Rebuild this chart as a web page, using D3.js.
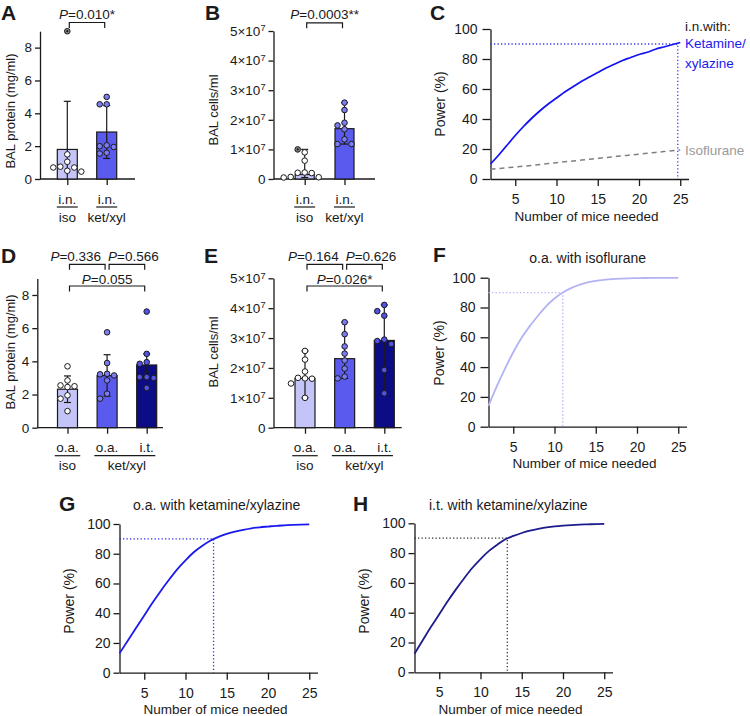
<!DOCTYPE html>
<html><head><meta charset="utf-8">
<script src="https://cdn.jsdelivr.net/npm/d3@7/dist/d3.min.js"></script>
<style>html,body{margin:0;padding:0;background:#fff}</style>
</head><body>
<svg id="fig" width="750" height="716" xmlns="http://www.w3.org/2000/svg"></svg>
<script>
// ================= DATA =================
// Panel A: BAL protein (mg/ml), i.n. delivery
const aTopLabels = ["i.n.", "i.n."];
const aGroupLabels = ["iso", "ket/xyl"];
const aBars = [1.8, 2.86];
const aErrLow = [0, 1.25];
const aErrHigh = [4.73, 4.47];
const aPointsIso = [1.5, 1.05, 0.75, 0.7, 0.7, 0.5, 0.45];
const aOutliersIso = [9.0];
const aPointsKet = [5.0, 4.55, 4.55, 2.05, 2.0, 1.95, 1.6, 1.55];
const proteinTicks = [0, 2, 4, 6, 8];
const aPvalue = "=0.010*";

// Panel B: BAL cells/ml, i.n. delivery
const bTopLabels = ["i.n.", "i.n."];
const bGroupLabels = ["iso", "ket/xyl"];
const bBars = [0.15e7, 1.70e7];
const bErrLow = [0.05e7, 1.18e7];
const bErrHigh = [1.0e7, 2.58e7];
const bPointsIso = [0.9e7, 0.62e7, 0.22e7, 0.21e7, 0.2e7, 0.07e7, 0.06e7, 0.05e7];
const bOutliersIso = [1.0e7];
const bPointsKet = [2.58e7, 2.33e7, 1.9e7, 1.81e7, 1.68e7, 1.34e7, 1.18e7, 1.18e7];
const cellTicks = [0, 1e7, 2e7, 3e7, 4e7, 5e7];
const bPvalue = "=0.0003**";

// Panel D: BAL protein, o.a. iso / o.a. ket/xyl / i.t. ket/xyl
const dTopLabels = ["o.a.", "o.a.", "i.t."];
const dGroupLabels = ["iso", "ket/xyl"];
const dBars = [2.32, 3.14, 3.78];
const dErrLow = [1.52, 1.9, 3.35];
const dErrHigh = [3.12, 4.4, 4.45];
const dPointsIso = [3.7, 2.85, 2.55, 2.5, 2.45, 1.95, 1.75, 1.0];
const dPointsOaKet = [5.75, 3.9, 3.25, 3.22, 3.15, 2.85, 2.05, 1.75];
const dPointsItKet = [7.0, 4.45, 3.95, 3.85, 3.05, 3.05, 3.0, 2.4];
const dPvalues = ["=0.336", "=0.566", "=0.055"];

// Panel E: BAL cells/ml
const eTopLabels = ["o.a.", "o.a.", "i.t."];
const eGroupLabels = ["iso", "ket/xyl"];
const eBars = [1.65e7, 2.31e7, 2.92e7];
const eErrLow = [1.0e7, 1.65e7, 1.15e7];
const eErrHigh = [2.57e7, 3.53e7, 4.11e7];
const ePointsIso = [2.57e7, 2.28e7, 1.88e7, 1.67e7, 1.65e7, 1.64e7, 1.48e7, 1.0e7];
const ePointsOaKet = [3.53e7, 3.13e7, 2.72e7, 2.48e7, 2.25e7, 1.98e7, 1.71e7, 1.65e7];
const ePointsItKet = [4.11e7, 3.9e7, 3.75e7, 2.95e7, 2.9e7, 2.8e7, 1.93e7, 1.15e7];
const ePvalues = ["=0.164", "=0.626", "=0.026*"];

// Power curves: number of mice vs power (%)
const miceN = [2,3,4,5,6,7,8,9,10,11,12,13,14,15,16,17,18,19,20,21,22,23,24,25];
const powerTicks = [0, 20, 40, 60, 80, 100];
const miceTicks = [5, 10, 15, 20, 25];
const targetPower = 90;
const cKetPower = [10,16,22.5,29,35,40.5,45.5,50,54,58,61.5,65,68,71,74,76.5,79,81,83,84.5,86.5,88,89.5,91];
const cIsoPower = [6.5,7,7.5,8,8.5,9.1,9.7,10.3,10.9,11.5,12,12.6,13.2,13.8,14.3,14.9,15.5,16,16.6,17.2,17.7,18.3,18.8,19.4];
const cNeeded = 24.7;
const fPower = [14,27,39,50,59.5,67.5,74.5,81,86,90,93,95.2,96.8,97.9,98.6,99.1,99.4,99.6,99.7,99.8,99.85,99.9,99.9,99.95];
const fNeeded = 11;
const gPower = [13,21.5,30,38.5,47,55,62.5,69.5,75.5,81,85.2,88.7,91.3,93.3,94.9,96.1,97.1,97.8,98.3,98.8,99.1,99.4,99.6,99.7];
const gNeeded = 13.4;
const hPower = [12.5,21.5,30.5,39,47.5,55.5,63,70,76,81.3,85.5,89.3,91.5,93.5,95.1,96.3,97.2,97.9,98.4,98.8,99.1,99.3,99.5,99.6];
const hNeeded = 13.25;

// ================= STYLE =================
const FONT = '"Liberation Sans", Arial, Helvetica, sans-serif';
const INK = "#1a1a1a";
const colIsoBar = "#c4c4f8", colKetBar = "#5a5aee", colItBar = "#0c0c84";
const colIsoPt = "#ffffff", colKetPt = "#7c7cf2", colItPt = "#5252e6";

const svg = d3.select("#fig").attr("font-family", FONT).style("color", INK);

function letter(t, x, y) {
  svg.append("text").attr("x", x).attr("y", y).attr("font-size", 21)
    .attr("font-weight", "bold").attr("fill", INK).text(t);
}
function yTitle(t, cx, cy, fs) {
  svg.append("text").attr("transform", `translate(${cx},${cy}) rotate(-90)`)
    .attr("text-anchor", "middle").attr("dy", "0.35em").attr("font-size", fs)
    .attr("fill", INK).text(t);
}
function styleAxis(g, fs) {
  g.attr("font-size", fs).attr("font-family", FONT);
  g.selectAll("path.domain").attr("stroke-width", 1.3).attr("stroke", INK);
  g.selectAll(".tick line").attr("stroke-width", 1.3).attr("stroke", INK);
  g.selectAll(".tick text").attr("fill", INK);
}
function sciLabels(g) {
  g.selectAll(".tick text").each(function(d) {
    const t = d3.select(this); t.text(null);
    if (d === 0) { t.text("0"); return; }
    t.append("tspan").text(`${d / 1e7}×10`);
    t.append("tspan").attr("dy", "-0.5em").attr("font-size", "0.68em").text("7");
  });
}

// deterministic beeswarm offsets
function swarm(vals, y, outFlags) {
  const minD = 6.4, step = 7;
  const order = vals.map((v, i) => i).sort((a, b) => {
    if (outFlags[a] !== outFlags[b]) return outFlags[a] ? 1 : -1;
    return vals[b] - vals[a];
  });
  const placed = [];
  const res = new Array(vals.length);
  const cands = [0, -step, step, -2 * step, 2 * step, -3 * step, 3 * step];
  order.forEach(i => {
    const py = y(vals[i]);
    for (const dx of cands) {
      if (placed.every(p => Math.hypot(p.dx - dx, p.py - py) >= minD)) {
        placed.push({ dx, py }); res[i] = { dx, py }; break;
      }
    }
  });
  return res;
}

function barPanel(o) {
  const g = svg.append("g");
  const n = o.bars.length;
  const y = d3.scaleLinear().domain([0, o.yMax]).range([o.yBase, o.yTop]);
  const x = d3.scalePoint().domain(d3.range(n)).range([o.c0, o.c1]);

  const ya = g.append("g").attr("transform", `translate(${o.x0},0)`)
    .call(d3.axisLeft(y).tickValues(o.ticks).tickSize(5).tickPadding(3).tickSizeOuter(0));
  styleAxis(ya, 13.5);
  if (o.sci) sciLabels(ya);
  const xa = g.append("g").attr("transform", `translate(0,${o.yBase})`)
    .call(d3.axisBottom(x).tickSize(6).tickFormat("").tickSizeOuter(0));
  xa.select("path.domain").remove();
  styleAxis(xa, 13.5);
  g.append("line").attr("x1", o.x0).attr("x2", o.x1).attr("y1", o.yBase).attr("y2", o.yBase)
    .attr("stroke", INK).attr("stroke-width", 1.3);

  g.selectAll("rect.bar").data(o.bars).join("rect").attr("class", "bar")
    .attr("x", (d, i) => x(i) - o.barW / 2).attr("y", d => y(d))
    .attr("width", o.barW).attr("height", d => o.yBase - y(d))
    .attr("fill", (d, i) => o.barFill[i]).attr("stroke", INK).attr("stroke-width", 1.2);

  o.bars.forEach((b, i) => {
    const lo = y(Math.max(0, o.errLow[i])), hi = y(o.errHigh[i]);
    g.append("line").attr("x1", x(i)).attr("x2", x(i)).attr("y1", lo).attr("y2", hi)
      .attr("stroke", INK).attr("stroke-width", 1.2);
    g.append("line").attr("x1", x(i) - 3.5).attr("x2", x(i) + 3.5).attr("y1", hi).attr("y2", hi)
      .attr("stroke", INK).attr("stroke-width", 1.2);
    if (o.errLow[i] > 0)
      g.append("line").attr("x1", x(i) - 3.5).attr("x2", x(i) + 3.5).attr("y1", lo).attr("y2", lo)
        .attr("stroke", INK).attr("stroke-width", 1.2);
  });

  o.points.forEach((pts, i) => {
    const outs = (o.outliers && o.outliers[i]) || [];
    const vals = pts.concat(outs);
    const flags = pts.map(() => false).concat(outs.map(() => true));
    const pos = swarm(vals, y, flags);
    vals.forEach((v, k) => {
      const cx = x(i) + pos[k].dx, cy = pos[k].py;
      if (flags[k]) {
        g.append("circle").attr("cx", cx).attr("cy", cy).attr("r", 2.8)
          .attr("fill", "#8a8a8a").attr("stroke", INK).attr("stroke-width", 1);
        g.append("circle").attr("cx", cx).attr("cy", cy).attr("r", 1.1).attr("fill", INK);
      } else {
        g.append("circle").attr("cx", cx).attr("cy", cy).attr("r", 2.8)
          .attr("fill", o.ptFill[i]).attr("stroke", INK).attr("stroke-width", 1);
      }
    });
  });

  const topTexts = o.topLabels.map((t, i) =>
    g.append("text").attr("x", x(i)).attr("y", o.yBase + 24.5).attr("text-anchor", "middle")
      .attr("font-size", 13.5).attr("fill", INK).text(t));
  o.groups.forEach(gr => {
    const l = x(gr.from) - topTexts[gr.from].node().getComputedTextLength() / 2 - 1.5;
    const r = x(gr.to) + topTexts[gr.to].node().getComputedTextLength() / 2 + 1.5;
    g.append("line").attr("x1", l).attr("x2", r).attr("y1", o.yBase + 28).attr("y2", o.yBase + 28)
      .attr("stroke", INK).attr("stroke-width", 1.2);
    g.append("text").attr("x", (x(gr.from) + x(gr.to)) / 2).attr("y", o.yBase + 42.5)
      .attr("text-anchor", "middle").attr("font-size", 13.5).attr("fill", INK).text(gr.label);
  });

  o.brackets.forEach(bk => {
    const x1 = x(bk.i) + 2, x2 = x(bk.j) - 2;
    g.append("path").attr("d", `M${x1},${bk.y + 5.5}V${bk.y}H${x2}V${bk.y + 5.5}`)
      .attr("fill", "none").attr("stroke", INK).attr("stroke-width", 1.2);
    let tx = (x(bk.i) + x(bk.j)) / 2, anchor = "middle";
    if (bk.align === "end") { tx = x(bk.j) - 6; anchor = "end"; }
    if (bk.align === "start") { tx = x(bk.i) + 1; anchor = "start"; }
    const t = g.append("text").attr("x", tx).attr("y", bk.ty).attr("text-anchor", anchor)
      .attr("font-size", 13.5).attr("fill", INK);
    t.append("tspan").attr("font-style", "italic").text("P");
    t.append("tspan").text(bk.text);
  });
  return { x, y };
}

function powerPanel(o) {
  const g = svg.append("g");
  const x = d3.scaleLinear().domain([2, 26]).range([o.x0, o.x1]);
  const y = d3.scaleLinear().domain([0, 100]).range([o.yBase, o.yTop]);
  const ya = g.append("g").attr("transform", `translate(${o.x0},0)`)
    .call(d3.axisLeft(y).tickValues(powerTicks).tickSize(o.yTick).tickPadding(o.yPad).tickSizeOuter(0));
  styleAxis(ya, 14);
  const xa = g.append("g").attr("transform", `translate(0,${o.yBase})`)
    .call(d3.axisBottom(x).tickValues(miceTicks).tickSize(7).tickPadding(8).tickSizeOuter(0));
  styleAxis(xa, 14);
  g.append("text").attr("x", (o.x0 + o.x1) / 2 - 3).attr("y", o.yBase + 41.5).attr("text-anchor", "middle")
    .attr("font-size", 13.5).attr("fill", INK).text("Number of mice needed");
  if (o.title)
    g.append("text").attr("x", o.titleX).attr("y", o.titleY).attr("text-anchor", "middle")
      .attr("font-size", 14).attr("fill", INK).text(o.title);

  g.append("path").attr("d", `M${x(2)},${y(targetPower)}H${x(o.needed)}V${y(0)}`)
    .attr("fill", "none").attr("stroke", o.dotColor).attr("stroke-width", 1.3)
    .attr("stroke-dasharray", "1.3,2.2");

  const line = d3.line().x((d, i) => x(miceN[i])).y(d => y(d)).curve(d3.curveMonotoneX);
  o.series.forEach(s => {
    g.append("path").attr("d", line(s.vals)).attr("fill", "none").attr("stroke", s.color)
      .attr("stroke-width", s.width).attr("stroke-dasharray", s.dash || null);
  });
  return { x, y, g };
}

// ================= PANELS =================
letter("A", 1, 20);
yTitle("BAL protein (mg/ml)", 10, 111, 13);
barPanel({
  x0: 40, x1: 135, c0: 67.3, c1: 106.7, yBase: 179, yTop: 31.2, yMax: 9, barW: 20,
  ticks: proteinTicks, bars: aBars, errLow: aErrLow, errHigh: aErrHigh,
  barFill: [colIsoBar, colKetBar], ptFill: [colIsoPt, colKetPt],
  points: [aPointsIso, aPointsKet], outliers: [aOutliersIso, []],
  topLabels: aTopLabels,
  groups: [{ label: aGroupLabels[0], from: 0, to: 0 }, { label: aGroupLabels[1], from: 1, to: 1 }],
  brackets: [{ i: 0, j: 1, y: 22.5, ty: 19, text: aPvalue, align: "middle" }]
});

letter("B", 205, 20);
yTitle("BAL cells/ml", 213, 110, 13);
barPanel({
  x0: 273.5, x1: 375, c0: 304.7, c1: 344.5, yBase: 179, yTop: 31, yMax: 5e7, barW: 19, sci: true,
  ticks: cellTicks, bars: bBars, errLow: bErrLow, errHigh: bErrHigh,
  barFill: [colIsoBar, colKetBar], ptFill: [colIsoPt, colKetPt],
  points: [bPointsIso, bPointsKet], outliers: [bOutliersIso, []],
  topLabels: bTopLabels,
  groups: [{ label: bGroupLabels[0], from: 0, to: 0 }, { label: bGroupLabels[1], from: 1, to: 1 }],
  brackets: [{ i: 0, j: 1, y: 22.8, ty: 19, text: bPvalue, align: "middle" }]
});

letter("C", 430, 20);
yTitle("Power (%)", 440, 104, 14);
powerPanel({
  x0: 490.5, x1: 688.5, yBase: 179, yTop: 29, yTick: 8, yPad: 5,
  needed: cNeeded, dotColor: "#3a3af5",
  series: [
    { vals: cIsoPower, color: "#808080", width: 1.5, dash: "5,4" },
    { vals: cKetPower, color: "#1414f0", width: 1.8 }
  ]
});
svg.append("text").attr("x", 685).attr("y", 31).attr("font-size", 13.5).attr("fill", INK).text("i.n.with:");
svg.append("text").attr("x", 685).attr("y", 48).attr("font-size", 13.5).attr("fill", "#1a1aee").text("Ketamine/");
svg.append("text").attr("x", 685).attr("y", 67.5).attr("font-size", 13.5).attr("fill", "#1a1aee").text("xylazine");
svg.append("text").attr("x", 685).attr("y", 155).attr("font-size", 13.5).attr("fill", "#9a9a9a").text("Isoflurane");

letter("D", 1, 263);
yTitle("BAL protein (mg/ml)", 10, 352, 13);
barPanel({
  x0: 37.3, x1: 163, c0: 67.5, c1: 146.7, yBase: 427.7, yTop: 278.4, yMax: 9, barW: 20,
  ticks: proteinTicks, bars: dBars, errLow: dErrLow, errHigh: dErrHigh,
  barFill: [colIsoBar, colKetBar, colItBar], ptFill: [colIsoPt, colKetPt, colItPt],
  points: [dPointsIso, dPointsOaKet, dPointsItKet],
  topLabels: dTopLabels,
  groups: [{ label: dGroupLabels[0], from: 0, to: 0 }, { label: dGroupLabels[1], from: 1, to: 2 }],
  brackets: [
    { i: 0, j: 1, y: 264.3, ty: 261, text: dPvalues[0], align: "end" },
    { i: 1, j: 2, y: 264.3, ty: 261, text: dPvalues[1], align: "start" },
    { i: 0, j: 2, y: 286, ty: 284, text: dPvalues[2], align: "middle" }
  ]
});

letter("E", 204, 263);
yTitle("BAL cells/ml", 213, 352, 13);
barPanel({
  x0: 273.5, x1: 401.7, c0: 305, c1: 384.3, yBase: 427.7, yTop: 278.3, yMax: 5e7, barW: 20, sci: true,
  ticks: cellTicks, bars: eBars, errLow: eErrLow, errHigh: eErrHigh,
  barFill: [colIsoBar, colKetBar, colItBar], ptFill: [colIsoPt, colKetPt, colItPt],
  points: [ePointsIso, ePointsOaKet, ePointsItKet],
  topLabels: eTopLabels,
  groups: [{ label: eGroupLabels[0], from: 0, to: 0 }, { label: eGroupLabels[1], from: 1, to: 2 }],
  brackets: [
    { i: 0, j: 1, y: 264.3, ty: 261, text: ePvalues[0], align: "end" },
    { i: 1, j: 2, y: 264.3, ty: 261, text: ePvalues[1], align: "start" },
    { i: 0, j: 2, y: 286, ty: 284, text: ePvalues[2], align: "middle" }
  ]
});

letter("F", 433, 262);
yTitle("Power (%)", 439.5, 353, 14);
powerPanel({
  x0: 488.5, x1: 686.5, yBase: 426.7, yTop: 277.7, yTick: 8, yPad: 5,
  needed: fNeeded, dotColor: "#b4b4f4", title: "o.a. with isoflurane", titleX: 587.7, titleY: 262.5,
  series: [{ vals: fPower, color: "#b3b3f3", width: 1.8 }]
});

letter("G", 59, 511);
yTitle("Power (%)", 69, 601, 14);
powerPanel({
  x0: 119.5, x1: 317.5, yBase: 672.7, yTop: 524, yTick: 6, yPad: 3,
  needed: gNeeded, dotColor: "#2a2af0", title: "o.a. with ketamine/xylazine", titleX: 216.7, titleY: 510,
  series: [{ vals: gPower, color: "#1a1aee", width: 1.8 }]
});

letter("H", 353, 511);
yTitle("Power (%)", 364, 601, 14);
powerPanel({
  x0: 414.5, x1: 612.5, yBase: 672.3, yTop: 523.3, yTick: 6, yPad: 3,
  needed: hNeeded, dotColor: "#333333", title: "i.t. with ketamine/xylazine", titleX: 508.3, titleY: 510,
  series: [{ vals: hPower, color: "#1c1c8c", width: 1.8 }]
});
</script>
</body></html>
